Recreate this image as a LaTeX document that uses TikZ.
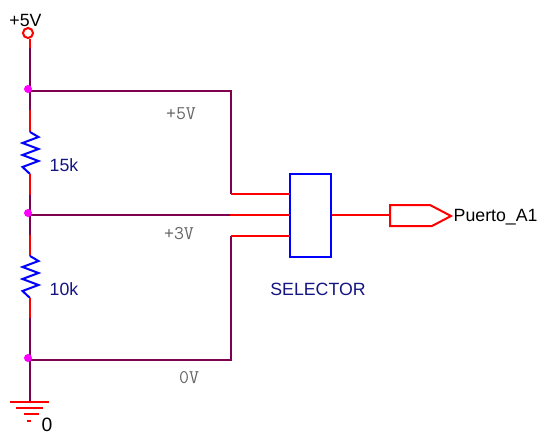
\documentclass[tikz,border=0pt]{standalone}
\usepackage{fontspec}
\setmainfont{Liberation Sans}
\usetikzlibrary{positioning}
\definecolor{wirecol}{RGB}{128,0,80}
\definecolor{labelcol}{RGB}{20,20,130}
\definecolor{dotcol}{RGB}{255,0,255}
\tikzset{
  wire/.style={draw=wirecol, line width=1.5pt},
  redwire/.style={draw=red, line width=1.5pt},
  blueline/.style={draw=blue, line width=1.5pt},
  junction/.style={circle, fill=dotcol, inner sep=0pt, minimum size=6pt},
  netlabel/.style={font=\ttfamily\fontsize{14.5}{14.5}\selectfont, text=black!60},
  partlabel/.style={font=\fontsize{13.3}{14}\selectfont, text=labelcol},
  blacklabel/.style={font=\fontsize{13.3}{14}\selectfont, text=black}
}
\begin{document}
\begin{tikzpicture}[x=0.75pt, y=-0.75pt]
      \useasboundingbox (0, 0) rectangle (538, 435);
      % supply and top of divider
      \node[circle, draw=red, line width=1.5pt, inner sep=0pt, minimum size=7.5pt] (vcc) at (28, 33) {};
      \node[blacklabel] (vcclabel) at (25.5, 20) {+5V};
      \coordinate (top) at (30, 91);
      \coordinate (mid) at (30, 215);
      \coordinate (bot) at (30, 360);
      % selector and port
      \node[draw=blue, line width=1.5pt, minimum width=30.75pt, minimum height=62.25pt, inner sep=0pt] (selector) at (310.5, 215.5) {};
      \node[partlabel] (selectorlabel) at (318, 289) {SELECTOR};
      \coordinate (port) at (390, 215);
      \coordinate (in1) at (290, 194);
      \coordinate (in2) at (290, 215);
      \coordinate (in3) at (290, 236);
      \node[blacklabel, anchor=west] (portlabel) at (449, 217) {Puerto\_A1};
      % 15k
      \draw[redwire] (vcc.south -| top) -- (30, 48);
      \draw[wire] (30, 48) -- (top) -- (30, 110);
      \draw[redwire] (30, 110) -- (30, 132);
      \draw[blueline] (30, 132) -- (38.5, 137) -- (22.5, 143) -- (38.5, 149) -- (22.5, 155) -- (38.5, 161) -- (22.5, 167) -- (30, 174);
      \draw[redwire] (30, 174) -- (30, 195);
      \draw[wire] (30, 195) -- (mid) -- (30, 235);
      \node[partlabel] (rtop) at (64, 165) {15k};
      % 10k
      \draw[redwire] (30, 235) -- (30, 256);
      \draw[blueline] (30, 256) -- (38.5, 261) -- (22.5, 267) -- (38.5, 273) -- (22.5, 279) -- (38.5, 285) -- (22.5, 291) -- (30, 298);
      \draw[redwire] (30, 298) -- (30, 318);
      \draw[wire] (30, 318) -- (bot) -- (30, 402);
      \node[partlabel] (rbot) at (64, 289) {10k};
      % ground
      \coordinate (gnd) at (30, 402);
      \draw[redwire] (10, 402) -- (49, 402);
      \draw[redwire] (16, 408) -- (43, 408);
      \draw[redwire] (24, 414) -- (39, 414);
      \draw[redwire] (27, 421) -- (31, 421);
      \node[blacklabel, font=\fontsize{14.5}{14.5}\selectfont, inner sep=0pt] (gndlabel) at (47, 425) {0};
      % wires to selector
      \draw[wire] (top) -- (231, 91) -- (231, 194);
      \draw[redwire] (231, 194) -- (in1);
      \draw[wire] (mid) -- (230, 215);
      \draw[redwire] (230, 215) -- (in2);
      \draw[wire] (bot) -- (231, 360) -- (231, 236);
      \draw[redwire] (231, 236) -- (in3);
      \node[netlabel] (vfive) at (181, 114) {+5V};
      \node[netlabel] (vthree) at (179, 234) {+3V};
      \node[netlabel] (vzero) at (189, 378) {0V};
      % output
      \draw[redwire] (selector.east |- port) -- (port);
      \draw[redwire] (port) -- (390, 205) -- (430, 205) -- (451, 216) -- (432, 226) -- (390, 226) -- cycle;
      % junction dots go on top
      \node[junction] (jtop) at (28, 89) {};
      \node[junction] (jmid) at (28, 213) {};
      \node[junction] (jbot) at (28, 358) {};
    \end{tikzpicture}
\end{document}
